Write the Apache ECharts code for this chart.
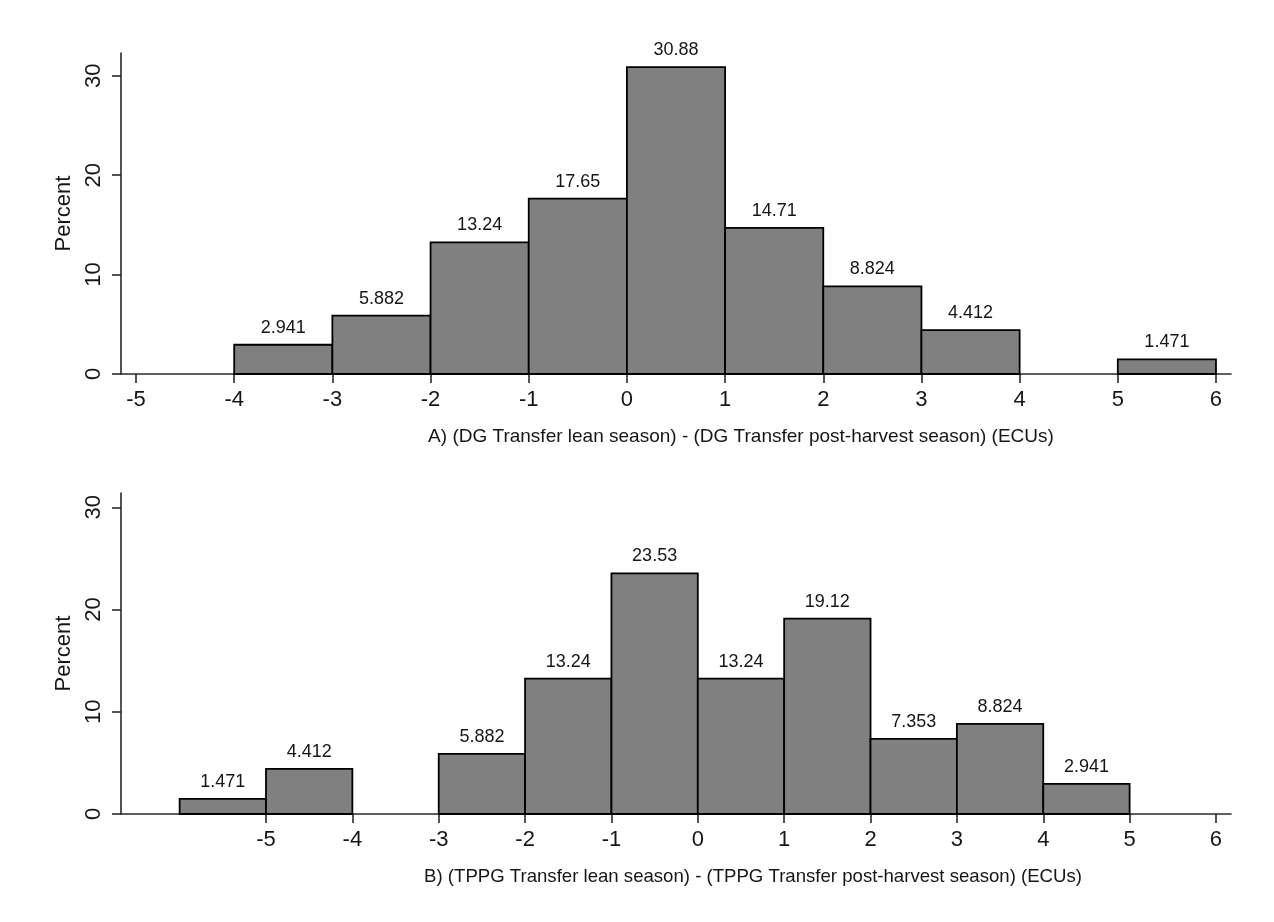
<!DOCTYPE html>
<html><head><meta charset="utf-8">
<script src="https://cdn.jsdelivr.net/npm/echarts@6/dist/echarts.min.js"></script>
<style>html,body{margin:0;padding:0;background:#fff}#c{width:1274px;height:922px}</style>
</head><body><div id="c"></div>
<script>
// ---- data ----
const binStartsA = [-4, -3, -2, -1, 0, 1, 2, 3, 5];
const percentA   = [2.941, 5.882, 13.24, 17.65, 30.88, 14.71, 8.824, 4.412, 1.471];
const binStartsB = [-6, -5, -3, -2, -1, 0, 1, 2, 3, 4];
const percentB   = [1.471, 4.412, 5.882, 13.24, 23.53, 13.24, 19.12, 7.353, 8.824, 2.941];
const binWidth = 1;
const xTickValues = [-5, -4, -3, -2, -1, 0, 1, 2, 3, 4, 5, 6];
const yTickValues = [0, 10, 20, 30];
const yAxisTitle = "Percent";
const xTitleA = "A) (DG Transfer lean season) - (DG Transfer post-harvest season) (ECUs)";
const xTitleB = "B) (TPPG Transfer lean season) - (TPPG Transfer post-harvest season) (ECUs)";

const FONT = '"Liberation Sans", Arial, Helvetica, sans-serif';
const TXT = '#161616';
const AX = '#2a2a2a';

function toData(starts, vals) {
  return starts.map((s, i) => [s, s + binWidth, vals[i]]);
}

function renderHist(params, api) {
  const x0 = api.value(0), x1 = api.value(1), v = api.value(2);
  const p0 = api.coord([x0, 0]);
  const p1 = api.coord([x1, v]);
  return {
    type: 'group',
    children: [
      { type: 'rect',
        shape: { x: p0[0], y: p1[1], width: p1[0] - p0[0], height: p0[1] - p1[1] },
        style: { fill: '#808080', stroke: '#000', lineWidth: 1.8 } },
      { type: 'text', x: (p0[0] + p1[0]) / 2, y: p1[1] - 8,
        style: { text: String(v), fill: TXT, font: '18px ' + FONT, align: 'center', verticalAlign: 'bottom' } }
    ]
  };
}

function xAxisCfg(idx, min, max) {
  return {
    type: 'value', gridIndex: idx, min: min, max: max,
    splitLine: { show: false },
    axisLine: { show: true, onZero: false, lineStyle: { color: AX, width: 1.6 } },
    axisTick: { show: true, length: 9, customValues: xTickValues, lineStyle: { color: AX, width: 1.6 } },
    axisLabel: { customValues: xTickValues, margin: 15, fontSize: 22, fontFamily: FONT, color: TXT }
  };
}
function yAxisCfg(idx, max) {
  return {
    type: 'value', gridIndex: idx, min: 0, max: max,
    name: yAxisTitle, nameLocation: 'middle', nameGap: 37, nameRotate: 90,
    nameTextStyle: { fontSize: 22, fontFamily: FONT, color: TXT },
    splitLine: { show: false },
    axisLine: { show: true, onZero: false, lineStyle: { color: AX, width: 1.6 } },
    axisTick: { show: true, length: 9, customValues: yTickValues, lineStyle: { color: AX, width: 1.6 } },
    axisLabel: { customValues: yTickValues, rotate: 90, margin: 16, fontSize: 22, fontFamily: FONT, color: TXT }
  };
}

const chart = echarts.init(document.getElementById('c'), null, { renderer: 'canvas' });
chart.setOption({
  backgroundColor: '#fff',
  animation: false,
  grid: [
    { left: 121, right: 43, top: 53, height: 321 },
    { left: 121, right: 43, top: 493, height: 321 }
  ],
  xAxis: [xAxisCfg(0, -5.153, 6.153), xAxisCfg(1, -6.679, 6.174)],
  yAxis: [yAxisCfg(0, 32.3), yAxisCfg(1, 31.4)],
  graphic: [
    { type: 'text', x: 741, y: 437, style: { text: xTitleA, font: '19px ' + FONT, fill: TXT, align: 'center', verticalAlign: 'middle' } },
    { type: 'text', x: 753, y: 877, style: { text: xTitleB, font: '18.6px ' + FONT, fill: TXT, align: 'center', verticalAlign: 'middle' } }
  ],
  series: [
    { type: 'custom', xAxisIndex: 0, yAxisIndex: 0, renderItem: renderHist, data: toData(binStartsA, percentA), clip: false },
    { type: 'custom', xAxisIndex: 1, yAxisIndex: 1, renderItem: renderHist, data: toData(binStartsB, percentB), clip: false }
  ]
});
</script></body></html>
